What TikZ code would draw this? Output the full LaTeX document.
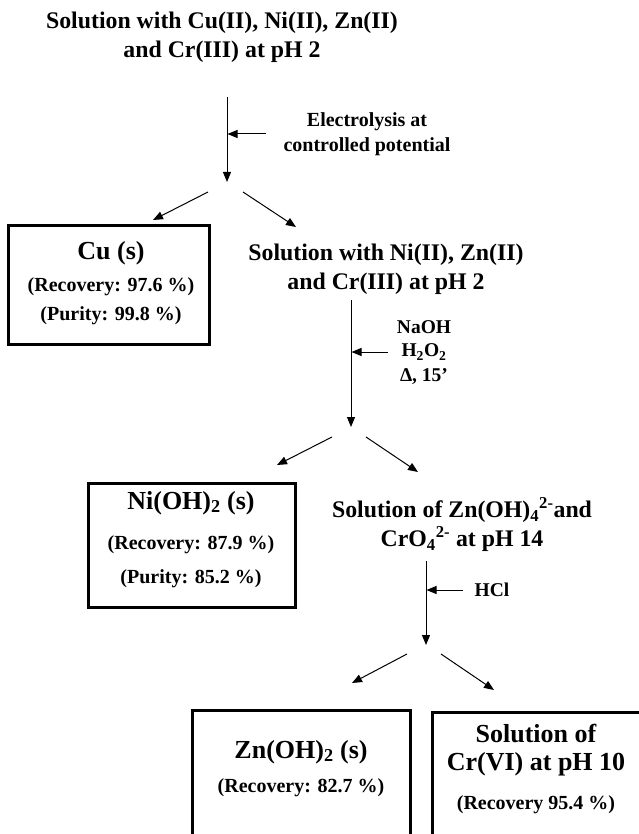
\documentclass[tikz,border=0pt]{standalone}
\usepackage{fontspec}
\setmainfont{Liberation Serif}
\usetikzlibrary{arrows.meta}
\begin{document}
\begin{tikzpicture}[x=1pt,y=-1pt,
  txt/.style={font=\bfseries\fontsize{23.8}{29}\selectfont, align=center, inner sep=0pt},
  small/.style={font=\bfseries\fontsize{20}{25}\selectfont, align=center, inner sep=0pt},
  reag/.style={font=\bfseries\fontsize{19.5}{25}\selectfont, align=center, inner sep=0pt},
  boxed/.style={draw, line width=3pt, inner sep=0pt},
  big/.style={font=\bfseries\fontsize{26}{28}\selectfont, align=center, inner sep=0pt},
  mid/.style={font=\bfseries\fontsize{20}{22}\selectfont, inner sep=0pt},
  arr/.style={-{Triangle[length=10pt,width=8pt]}, line width=1pt}]
\useasboundingbox (0,0) rectangle (638,834);
% title
\node[txt] (t1) at (222,37.5) {Solution with Cu(II), Ni(II), Zn(II)\\and Cr(III) at pH 2};
\coordinate (a1s) at (227,97);
\coordinate (a1e) at (227,182);
\draw[arr] (a1s) -- (a1e);
\coordinate (s1) at (266,134);
\coordinate (s1e) at (227.5,134);
\draw[arr] (s1) -- (s1e);
\node[small] (e1) at (367,134.5) {Electrolysis at\\controlled potential};
% branch 1
\coordinate (b1l) at (208,192);
\coordinate (b1le) at (153,220);
\coordinate (b1r) at (243,192);
\coordinate (b1re) at (296,227);
\draw[arr] (b1l) -- (b1le);
\draw[arr] (b1r) -- (b1re);
% Cu box
\draw[boxed] (8,225) rectangle (209,344);
\node[big] (cu) at (111,253) {Cu (s)};
\node[mid] (cur) at (111,287) {(Recovery: 97.6 \%)};
\node[mid] (cup) at (111,316) {(Purity: 99.8 \%)};
% second solution
\node[txt] (t2) at (386,269) {Solution with Ni(II), Zn(II)\\and Cr(III) at pH 2};
\coordinate (a2s) at (351,300);
\coordinate (a2e) at (351,427);
\draw[arr] (a2s) -- (a2e);
\coordinate (s2) at (388,352);
\coordinate (s2e) at (351.5,352);
\draw[arr] (s2) -- (s2e);
\node[reag] (naoh) at (424,327) {NaOH};
\node[reag] (h2o2) at (424,352) {H\textsubscript{2}O\textsubscript{2}};
\node[reag] (delta) at (424,377) {Δ, 15’};
% branch 2
\coordinate (b2l) at (332,437);
\coordinate (b2le) at (277,465);
\coordinate (b2r) at (366,437);
\coordinate (b2re) at (418,472);
\draw[arr] (b2l) -- (b2le);
\draw[arr] (b2r) -- (b2re);
% Ni box
\draw[boxed] (88,483) rectangle (295,607);
\node[big] (ni) at (191,503) {Ni(OH)\textsubscript{2} (s)};
\node[mid] (nir) at (191,545) {(Recovery: 87.9 \%)};
\node[mid] (nip) at (191,579) {(Purity: 85.2 \%)};
% third solution
\node[txt] (t3) at (462,524.5) {Solution of Zn(OH)\textsubscript{4}\textsuperscript{2-}and\\CrO\textsubscript{4}\textsuperscript{2-} at pH 14};
\coordinate (a3s) at (426,561);
\coordinate (a3e) at (426,645);
\draw[arr] (a3s) -- (a3e);
\coordinate (s3) at (463,590);
\coordinate (s3e) at (426.5,590);
\draw[arr] (s3) -- (s3e);
\node[reag] (hcl) at (492,590) {HCl};
% branch 3
\coordinate (b3l) at (407,654);
\coordinate (b3le) at (352,683);
\coordinate (b3r) at (441,654);
\coordinate (b3re) at (494,690);
\draw[arr] (b3l) -- (b3le);
\draw[arr] (b3r) -- (b3re);
% Zn box
\draw[boxed] (192,710) rectangle (410,840);
\node[big] (zn) at (301,752) {Zn(OH)\textsubscript{2} (s)};
\node[mid] (znr) at (301,788) {(Recovery: 82.7 \%)};
% Cr box
\draw[boxed] (432,712) rectangle (642,840);
\node[big] (cr) at (536,750.5) {Solution of\\Cr(VI) at pH 10};
\node[mid] (crr) at (536,805) {(Recovery 95.4 \%)};
\end{tikzpicture}
\end{document}
